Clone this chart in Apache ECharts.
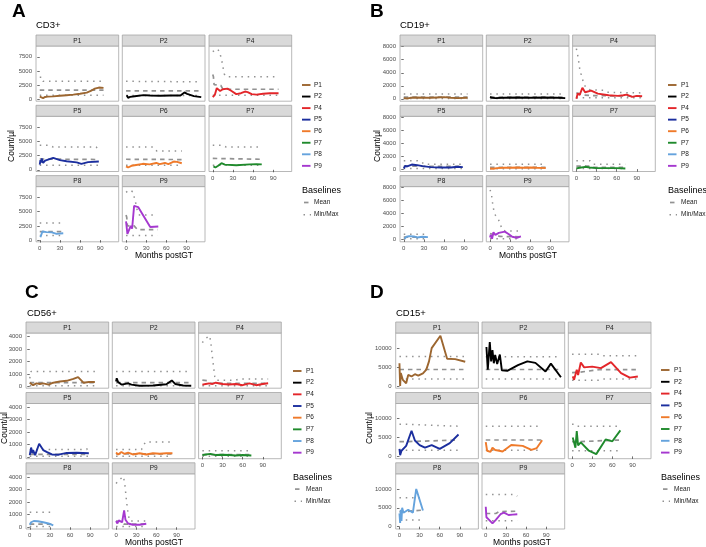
<!DOCTYPE html>
<html><head><meta charset="utf-8">
<script src="https://cdn.jsdelivr.net/npm/echarts@6/dist/echarts.min.js"></script>
<style>html,body{margin:0;padding:0;background:#fff}#c{width:706px;height:547px}</style>
</head><body><div id="c"></div>
<script>
// ---------------- DATA ----------------
const patients = ['P1','P2','P4','P5','P6','P7','P8','P9'];
const markers = ['CD3+','CD19+','CD56+','CD15+'];
const panelLetters = ['A','B','C','D'];
const monthTicks = [0,30,60,90];
const cd3Ticks = [0,2500,5000,7500];
const cd19Ticks = [0,2000,4000,6000,8000];
const cd56Ticks = [0,1000,2000,3000,4000];
const cd15Ticks = [0,5000,10000];
const baselineNames = ['Mean','Min/Max'];

// [months postGT, count/µl]
const CD3_line = {
  P1:[[0,500],[2,300],[5,250],[8,450],[12,500],[20,550],[30,650],[40,750],[50,850],[60,1000],[70,1200],[76,1500],[82,1900],[88,2100],[95,2050]],
  P2:[[1,750],[3,300],[6,470],[13,580],[26,760],[36,700],[51,650],[66,700],[81,700],[87,1250],[91,1000],[101,600],[112,420]],
  P4:[[0,400],[3,800],[6,2000],[8,2300],[11,1500],[15,1800],[22,1900],[28,1500],[35,950],[42,1100],[48,1400],[52,1300],[58,950],[65,850],[75,1000],[85,1100],[98,1100]],
  P5:[[0,900],[1,1700],[2,1300],[3,2000],[5,1200],[8,1600],[10,1400],[20,2100],[30,1700],[40,1500],[55,1300],[62,1050],[72,1350],[88,1450]],
  P6:[[0,600],[3,400],[8,700],[15,850],[25,1050],[35,950],[45,1200],[50,1000],[58,1200],[63,1000],[71,1450],[76,1400],[83,1150]],
  P7:[[1,600],[4,400],[8,700],[13,1150],[18,900],[35,800],[55,950],[65,1000],[73,950]],
  P8:[[1,500],[4,1500],[10,1400],[18,1350],[25,1100],[35,1200]],
  P9:[[0,3300],[2,1100],[7,2500],[9,2000],[12,6000],[18,5800],[36,2300],[48,2400]]
};
const CD3_mean = {
  P1:[[0,1650],[95,1650]], P2:[[0,1500],[112,1500]],
  P4:[[0,4400],[1,4000],[2,2600],[12,2500],[15,1800],[98,1800]],
  P5:[[0,1900],[88,1800]], P6:[[0,1850],[83,1800]], P7:[[0,2000],[73,1850]],
  P8:[[0,1500],[35,1500]],
  P9:[[0,4400],[1,4000],[2,2500],[12,2500],[17,1850],[47,1850]]
};
const CD3_min = {
  P1:[[0,750],[95,750]], P2:[[0,700],[112,700]], P4:[[0,750],[98,750]], P5:[[0,800],[88,800]],
  P6:[[0,800],[83,800]], P7:[[0,800],[73,800]], P8:[[0,800],[35,800]], P9:[[0,800],[47,800]]
};
const CD3_max = {
  P1:[[0,3900],[4,3900],[5,3200],[95,3200]], P2:[[0,3200],[112,3100]],
  P4:[[0,8400],[6,8900],[10,8500],[14,6500],[17,4500],[20,4000],[98,4000]],
  P5:[[0,4300],[15,4300],[20,4000],[84,4000],[88,3500]],
  P6:[[0,4000],[40,4000],[43,3500],[46,3300],[83,3300]],
  P7:[[0,4300],[15,4300],[20,4000],[73,4000]],
  P8:[[0,3000],[35,3000]],
  P9:[[0,8400],[5,8800],[10,8500],[13,7200],[15,6200],[17,5000],[20,4400],[47,4400]]
};

const CD19_line = {
  P1:[[0,100],[5,50],[10,150],[20,200],[30,150],[40,150],[50,200],[60,250],[70,150],[80,100],[95,150]],
  P2:[[0,300],[3,150],[8,100],[20,150],[40,200],[60,150],[80,200],[100,150],[112,100]],
  P4:[[0,0],[2,800],[5,600],[9,1700],[13,1000],[22,1250],[32,800],[48,550],[62,450],[70,550],[75,650],[83,300],[90,450],[98,400]],
  P5:[[0,100],[2,500],[5,400],[12,700],[20,600],[28,450],[40,300],[55,250],[70,250],[80,350],[88,300]],
  P6:[[0,100],[5,50],[10,150],[20,200],[30,200],[40,250],[50,200],[60,250],[70,200],[83,150]],
  P7:[[0,100],[5,200],[13,350],[20,250],[30,150],[45,150],[60,150],[73,100]],
  P8:[[1,100],[4,400],[8,500],[15,450],[20,300],[28,400],[36,350]],
  P9:[[0,300],[1,700],[3,100],[5,1100],[8,700],[13,1000],[22,1200],[28,800],[33,400],[40,250],[46,450]]
};
const CD19_mean = {
  P1:[[0,250],[95,250]], P2:[[0,250],[112,250]], P4:[[0,900],[10,600],[20,500],[98,400]],
  P5:[[0,450],[88,400]], P6:[[0,250],[83,250]], P7:[[0,450],[20,450],[25,250],[73,250]],
  P8:[[0,350],[36,350]], P9:[[0,900],[10,600],[15,450],[46,400]]
};
const CD19_min = {
  P1:[[0,50],[95,50]], P2:[[0,50],[112,50]], P4:[[0,150],[98,150]], P5:[[0,100],[88,100]],
  P6:[[0,50],[83,50]], P7:[[0,100],[73,100]], P8:[[0,100],[36,100]], P9:[[0,100],[46,100]]
};
const CD19_max = {
  P1:[[0,750],[95,750]], P2:[[0,750],[112,750]],
  P4:[[0,7700],[2,6700],[4,5400],[5,4600],[7,3800],[9,3100],[11,2300],[15,1600],[20,1400],[40,1300],[45,1000],[98,900]],
  P5:[[0,1300],[20,1300],[27,1100],[30,750],[88,750]],
  P6:[[0,750],[83,750]],
  P7:[[0,1300],[20,1300],[25,750],[73,750]],
  P8:[[0,800],[36,800]],
  P9:[[0,7600],[2,7000],[3,6200],[4,5400],[5.5,4500],[8,3700],[12,3200],[15,2400],[18,1500],[22,1300],[46,1300]]
};

const CD56_line = {
  P1:[[0,300],[2,150],[5,100],[10,250],[15,200],[20,250],[28,150],[35,300],[45,400],[55,450],[65,600],[72,750],[80,300],[88,350],[97,350]],
  P2:[[0,400],[1,650],[3,350],[8,150],[18,250],[23,150],[35,60],[55,80],[75,180],[83,480],[88,200],[100,80],[112,60]],
  P4:[[0,150],[5,200],[10,250],[15,200],[20,300],[30,200],[40,150],[50,200],[60,100],[70,250],[80,100],[90,200],[98,250]],
  P5:[[0,150],[2,750],[4,300],[5,550],[8,150],[14,1050],[20,550],[25,400],[33,200],[43,180],[55,320],[70,330],[88,300]],
  P6:[[0,350],[3,200],[8,400],[12,250],[18,350],[25,200],[35,300],[45,200],[55,300],[65,250],[75,300],[84,300]],
  P7:[[0,150],[5,200],[12,250],[20,150],[30,180],[40,150],[50,120],[60,150],[73,120]],
  P8:[[0,200],[2,400],[6,500],[12,480],[20,400],[28,300],[35,150]],
  P9:[[0,500],[2,300],[4,550],[6,400],[9,400],[12,1350],[14,600],[18,300],[25,200],[35,200],[45,280]]
};
const CD56_mean = {
  P1:[[0,300],[97,300]], P2:[[0,300],[112,300]], P4:[[0,500],[8,450],[12,250],[98,250]],
  P5:[[0,200],[88,200]], P6:[[0,250],[84,250]], P7:[[0,180],[73,180]],
  P8:[[0,250],[35,250]], P9:[[0,500],[8,450],[12,250],[45,250]]
};
const CD56_min = {
  P1:[[0,50],[97,50]], P2:[[0,50],[112,50]], P4:[[0,50],[98,50]], P5:[[0,50],[88,50]],
  P6:[[0,50],[84,50]], P7:[[0,50],[73,50]], P8:[[0,50],[35,50]], P9:[[0,50],[45,50]]
};
const CD56_max = {
  P1:[[0,650],[2,1200],[97,1200]], P2:[[0,1200],[112,1200]],
  P4:[[0,3500],[5,3850],[11,4050],[13,3300],[14,2800],[15.5,2100],[17,1450],[18.5,800],[20,500],[50,500],[55,600],[98,600]],
  P5:[[0,600],[85,600],[88,950]],
  P6:[[0,600],[38,600],[40,850],[44,1200],[84,1200]],
  P7:[[0,500],[73,500]],
  P8:[[0,1200],[35,1200]],
  P9:[[0,3500],[5,3800],[11,4050],[13,3450],[14,2950],[15,2400],[16,1900],[18,1100],[20,500],[45,500]]
};

const CD15_line = {
  P1:[[0,6000],[1,0],[2,3400],[5,1600],[10,700],[13,2900],[18,2500],[23,3100],[28,2700],[35,3300],[40,4300],[44,6500],[48,10000],[61,13300],[71,7200],[83,7100],[98,6400]],
  P2:[[1,10300],[3,4300],[6,11600],[8,6500],[10,9500],[12,6000],[14,8200],[17,5800],[21,8300],[24,4100],[32,4000],[48,5500],[62,6500],[74,6100],[89,3800],[97,5900],[112,2300]],
  P4:[[1,2500],[3,1600],[7,4300],[9,2900],[13,6200],[18,4900],[30,5100],[43,4700],[58,6300],[73,3400],[86,2200],[98,2500]],
  P5:[[0,2000],[1,300],[3,1500],[10,2800],[18,6800],[23,4200],[30,3000],[38,2300],[48,3000],[60,2000],[75,3500],[88,5800]],
  P6:[[0,3800],[2,1500],[4,1900],[7,1200],[10,2300],[14,1700],[20,1500],[25,1300],[38,3000],[55,2800],[68,1700],[76,2200],[84,4300]],
  P7:[[1,5000],[3,3700],[5,2300],[7,6700],[9,2900],[13,3700],[25,1500],[36,600],[50,4500],[60,4000],[72,6900]],
  P8:[[0,3500],[1,1000],[2,4500],[3,1500],[4,5000],[6,3700],[13,4500],[20,3700],[25,10000],[35,4300]],
  P9:[[0,5300],[1,2500],[5,1800],[10,900],[15,1800],[22,3300],[27,3700],[34,3100],[40,3200],[47,3300]]
};
const CD15_mean = {
  P1:[[0,4350],[98,4350]], P2:[[0,4350],[112,4350]], P4:[[0,3500],[10,3600],[40,4300],[98,4300]],
  P5:[[0,3900],[10,3900],[12,4350],[88,4350]], P6:[[0,4350],[84,4350]],
  P7:[[0,3900],[10,3900],[12,4350],[72,4350]], P8:[[0,4000],[8,4000],[10,4400],[35,4400]],
  P9:[[0,3500],[15,3500],[20,4000],[47,4100]]
};
const CD15_min = {
  P1:[[0,1800],[98,1800]], P2:[[0,1800],[112,1800]], P4:[[0,1500],[40,1500],[45,1800],[98,1800]],
  P5:[[0,1600],[88,1600]], P6:[[0,1600],[84,1600]], P7:[[0,1500],[72,1500]],
  P8:[[0,1800],[35,1800]], P9:[[0,1600],[47,1600]]
};
const CD15_max = {
  P1:[[0,7800],[98,7800]], P2:[[0,7700],[112,7700]], P4:[[0,8400],[40,8400],[45,8000],[98,8000]],
  P5:[[0,8500],[10,8500],[12,8000],[88,8000]], P6:[[0,8000],[84,8000]],
  P7:[[0,8500],[3,8500],[6,8000],[72,8000]], P8:[[0,7700],[35,7700]],
  P9:[[0,8500],[44,8500],[47,8100]]
};

// ---------------- STYLE / LAYOUT ----------------
const colors = {P1:'#9C6630',P2:'#000000',P4:'#E3262A',P5:'#1B2E9E',P6:'#EF7A2A',P7:'#1F8A2C',P8:'#65A3DD',P9:'#A538CF'};
const FONT = '"Liberation Sans", Arial, Helvetica, sans-serif';
const GRAY = '#929292';
const DOT = [1.5,4.8], DASH = [4.5,4];

const panels = [
  {line:CD3_line, mean:CD3_mean, min:CD3_min, max:CD3_max, ticks:cd3Ticks, ymin:-300, ymax:9400,
   cols:[36,122.3,209], rows:[35,105.3,175.6], letter:[12,11.5], title:[36,25],
   ytitle:[11.5,146], xtitle:[164,256], kx:302, lx:314, ky:85, kstep:11.55, by:190.7},
  {line:CD19_line, mean:CD19_mean, min:CD19_min, max:CD19_max, ticks:cd19Ticks, ymin:-370, ymax:8110,
   cols:[400,486.3,572.6], rows:[35,105.3,175.6], letter:[370,11.5], title:[400,25],
   ytitle:[378,146], xtitle:[528,256], kx:668, lx:681, ky:85, kstep:11.55, by:190.7},
  {line:CD56_line, mean:CD56_mean, min:CD56_min, max:CD56_max, ticks:cd56Ticks, ymin:-140, ymax:4270,
   cols:[26,112.3,198.6], rows:[322,392.5,462.8], letter:[25,292.5], title:[27,313],
   ytitle:[4.5,428], xtitle:[154,542.5], kx:293, lx:306, ky:371, kstep:11.67, by:477.3},
  {line:CD15_line, mean:CD15_mean, min:CD15_min, max:CD15_max, ticks:cd15Ticks, ymin:-612, ymax:14016,
   cols:[395.7,482,568.3], rows:[322,392.5,462.8], letter:[370,293], title:[396,313],
   ytitle:[370,428], xtitle:[522,542.5], kx:661, lx:674, ky:370, kstep:11.8, by:477.3}
];
const W = 82.7, STRIP = 11, PH = 55.2;

const grids = [], xAxes = [], yAxes = [], series = [], graphics = [];
let gi = 0;
panels.forEach((pn, pi) => {
  graphics.push({type:'text', x:pn.letter[0], y:pn.letter[1], z:10,
    style:{text:panelLetters[pi], font:'bold 19px '+FONT, fill:'#000', textAlign:'left', textVerticalAlign:'middle', align:'left', verticalAlign:'middle'}});
  graphics.push({type:'text', x:pn.title[0], y:pn.title[1], z:10,
    style:{text:markers[pi], font:'9.5px '+FONT, fill:'#000', textAlign:'left', textVerticalAlign:'middle', align:'left', verticalAlign:'middle'}});
  graphics.push({type:'text', x:pn.ytitle[0], y:pn.ytitle[1], rotation:Math.PI/2, z:10,
    style:{text:'Count/µl', font:'8.5px '+FONT, fill:'#000', textAlign:'center', textVerticalAlign:'middle', align:'center', verticalAlign:'middle'}});
  graphics.push({type:'text', x:pn.xtitle[0], y:pn.xtitle[1], z:10,
    style:{text:'Months postGT', font:'8.5px '+FONT, fill:'#000', textAlign:'center', textVerticalAlign:'middle', align:'center', verticalAlign:'middle'}});

  patients.forEach((p, k) => {
    const r = Math.floor(k/3), c = k%3;
    const left = pn.cols[c], top = pn.rows[r] + STRIP;
    const showY = c === 0;
    const showX = k >= 5;
    grids.push({left:left, top:top, width:W, height:PH, show:true, backgroundColor:'#fff',
      borderColor:'#a6a6a6', borderWidth:0.8, containLabel:false, outerBoundsMode:'none'});
    xAxes.push({type:'value', gridIndex:gi, min:-5.6, max:117.6,
      axisLine:{show:false}, splitLine:{show:false},
      axisTick:{show:showX, length:2.5, lineStyle:{color:'#333', width:0.7}, customValues:monthTicks},
      axisLabel:{show:showX, customValues:monthTicks, fontSize:6, color:'#4d4d4d', margin:3.5, fontFamily:FONT, formatter:v=>String(v)}});
    yAxes.push({type:'value', gridIndex:gi, min:pn.ymin, max:pn.ymax,
      axisLine:{show:false}, splitLine:{show:false},
      axisTick:{show:showY, length:2.5, lineStyle:{color:'#333', width:0.7}, customValues:pn.ticks},
      axisLabel:{show:showY, customValues:pn.ticks, fontSize:6, color:'#4d4d4d', margin:4, fontFamily:FONT, formatter:v=>String(v)}});
    graphics.push({type:'rect', z:5, shape:{x:left, y:pn.rows[r], width:W, height:STRIP},
      style:{fill:'#d9d9d9', stroke:'#a6a6a6', lineWidth:0.8}});
    graphics.push({type:'text', z:6, x:left+W/2, y:pn.rows[r]+STRIP/2+0.3,
      style:{text:p, font:'6.5px '+FONT, fill:'#1a1a1a', textAlign:'center', textVerticalAlign:'middle', align:'center', verticalAlign:'middle'}});

    const common = {type:'line', xAxisIndex:gi, yAxisIndex:gi, symbol:'none', showSymbol:false, silent:true, animation:false};
    series.push(Object.assign({}, common, {name:'Min/Max', data:pn.max[p], z:2,
      lineStyle:{color:GRAY, width:1.5, type:DOT}}));
    series.push(Object.assign({}, common, {name:'Min/Max', data:pn.min[p], z:2,
      lineStyle:{color:GRAY, width:1.5, type:DOT}}));
    series.push(Object.assign({}, common, {name:'Mean', data:pn.mean[p], z:2,
      lineStyle:{color:GRAY, width:1.7, type:DASH}}));
    series.push(Object.assign({}, common, {name:p, data:pn.line[p], z:3,
      lineStyle:{color:colors[p], width:1.9}}));
    gi++;
  });

  patients.forEach((p, i) => {
    const y = pn.ky + i*pn.kstep;
    graphics.push({type:'line', z:10, shape:{x1:pn.kx, y1:y, x2:pn.kx+8.5, y2:y}, style:{stroke:colors[p], lineWidth:1.9}});
    graphics.push({type:'text', z:10, x:pn.lx, y:y,
      style:{text:p, font:'6.5px '+FONT, fill:'#1a1a1a', textAlign:'left', textVerticalAlign:'middle', align:'left', verticalAlign:'middle'}});
  });
  graphics.push({type:'text', z:10, x:pn.kx, y:pn.by,
    style:{text:'Baselines', font:'9px '+FONT, fill:'#000', textAlign:'left', textVerticalAlign:'middle', align:'left', verticalAlign:'middle'}});
  const my = pn.by + 11.8, ny = pn.by + 24;
  graphics.push({type:'line', z:10, shape:{x1:pn.kx+2, y1:my, x2:pn.kx+6.5, y2:my}, style:{stroke:GRAY, lineWidth:1.7}});
  graphics.push({type:'text', z:10, x:pn.lx, y:my,
    style:{text:baselineNames[0], font:'6.5px '+FONT, fill:'#1a1a1a', textAlign:'left', textVerticalAlign:'middle', align:'left', verticalAlign:'middle'}});
  graphics.push({type:'line', z:10, shape:{x1:pn.kx+1.5, y1:ny, x2:pn.kx+9, y2:ny}, style:{stroke:GRAY, lineWidth:1.5, lineDash:DOT}});
  graphics.push({type:'text', z:10, x:pn.lx, y:ny,
    style:{text:baselineNames[1], font:'6.5px '+FONT, fill:'#1a1a1a', textAlign:'left', textVerticalAlign:'middle', align:'left', verticalAlign:'middle'}});
});

const chart = echarts.init(document.getElementById('c'), null, {renderer:'canvas'});
chart.setOption({
  animation:false,
  backgroundColor:'#fff',
  grid:grids, xAxis:xAxes, yAxis:yAxes, series:series,
  graphic:{elements:graphics}
});
</script></body></html>
